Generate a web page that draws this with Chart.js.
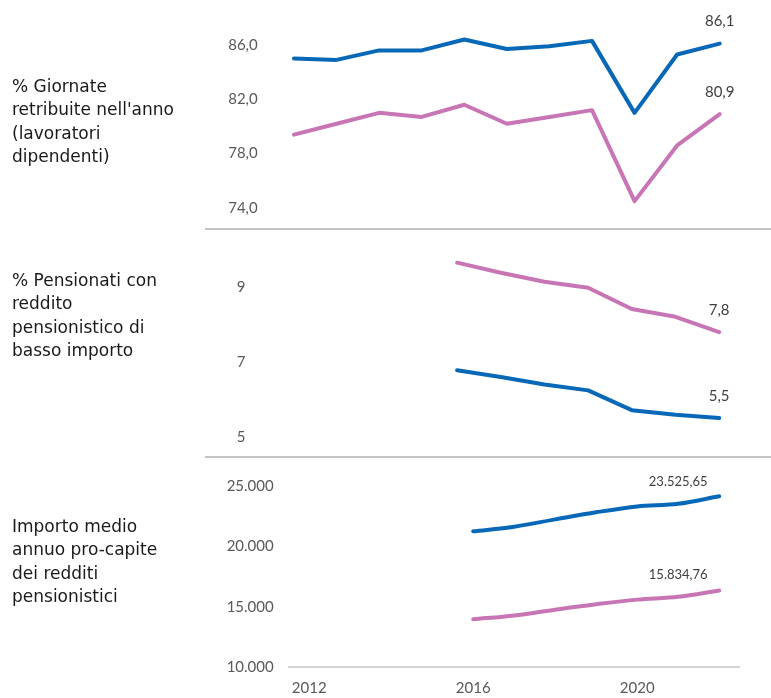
<!DOCTYPE html>
<html lang="it">
<head>
<meta charset="utf-8">
<title>Indicatori lavoro e pensioni</title>
<script src="https://cdn.jsdelivr.net/npm/chart.js@4.4.1/dist/chart.umd.min.js"></script>
<style>
    body { margin: 0; background: #fff; }
    #wrap { position: relative; width: 771px; height: 698px; overflow: hidden; background: #fff; }
    .panel { position: absolute; left: 0; }
    .titolo {
        position: absolute;
        left: 12px;
        font-family: "DejaVu Sans", sans-serif;
        font-size: 17px;
        line-height: 23.3px;
        color: #1a1a1a;
    }
    .sep { position: absolute; left: 205px; right: 0; height: 2px; background: #c4c4c4; }
</style>
</head>
<body>
<div id="wrap">
    <canvas id="giornateChart" class="panel" width="771" height="229" style="top:0"></canvas>
    <canvas id="bassoImportoChart" class="panel" width="771" height="228" style="top:229px"></canvas>
    <canvas id="importoMedioChart" class="panel" width="771" height="241" style="top:457px"></canvas>

    <div class="sep" style="top:228px"></div>
    <div class="sep" style="top:456px"></div>

    <div class="titolo" style="top:75px">% Giornate<br>retribuite nell'anno<br>(lavoratori<br>dipendenti)</div>
    <div class="titolo" style="top:269px">% Pensionati con<br>reddito<br>pensionistico di<br>basso importo</div>
    <div class="titolo" style="top:515px">Importo medio<br>annuo pro-capite<br>dei redditi<br>pensionistici</div>
</div>

<script>
// anni sull'asse orizzontale (solo alcuni mostrano l'etichetta)
const anni = ["2012", "2013", "2014", "2015", "2016", "2017", "2018", "2019", "2020", "2021", "2022"];
const anniEtichette = ["2012", "2016", "2020"];

// % giornate retribuite
const giornateBlu = [85.0, 84.9, 85.6, 85.6, 86.4, 85.7, 85.9, 86.3, 81.0, 85.3, 86.1];
const giornateRosa = [79.4, 80.2, 81.0, 80.7, 81.6, 80.2, 80.7, 81.2, 74.5, 78.6, 80.9];
const giornateTicks = [74, 78, 82, 86];

// % pensionati con reddito di basso importo (dal 2016)
const bassoBlu = [null, null, null, null, 6.78, 6.6, 6.4, 6.24, 5.71, 5.59, 5.5];
const bassoRosa = [null, null, null, null, 9.66, 9.39, 9.15, 8.99, 8.42, 8.21, 7.8];
const bassoTicks = [5, 7, 9];

// importo medio annuo pro-capite (dal 2016)
const importoBlu = [null, null, null, null, 21250, 21630, 22240, 22830, 23310, 23525.65, 24150];
const importoRosa = [null, null, null, null, 13970, 14290, 14770, 15220, 15600, 15834.76, 16360];
const importoTicks = [10000, 15000, 20000, 25000];

const BLU = "#0868b8";
const ROSA = "#c875b5";
const GRIGIO_TICK = "#595959";

function formatIt(v, dec) {
    const parts = Number(v).toFixed(dec).split(".");
    parts[0] = parts[0].replace(/\B(?=(\d{3})+(?!\d))/g, ".");
    return parts.join(",");
}

// niente margini extra dalle etichette: l'area del grafico la decide il padding
function senzaMargini(scale) {
    scale.paddingTop = 0;
    scale.paddingBottom = 0;
    scale.paddingLeft = 0;
    scale.paddingRight = 0;
}

// scrive il valore sopra alcuni punti delle serie
const valueLabels = {
    id: "valueLabels",
    afterDatasetsDraw(chart, args, opts) {
        const ctx = chart.ctx;
        ctx.save();
        ctx.font = opts.font;
        ctx.fillStyle = "#404040";
        ctx.textAlign = "center";
        ctx.textBaseline = "middle";
        opts.points.forEach(p => {
            const el = chart.getDatasetMeta(p.dataset).data[p.index];
            const v = chart.data.datasets[p.dataset].data[p.index];
            ctx.fillText(formatIt(v, opts.decimals), el.x, el.y - 22);
        });
        ctx.restore();
    }
};

function serie(data, colore, smooth) {
    return {
        data: data,
        borderColor: colore,
        borderWidth: 4,
        pointRadius: 0,
        fill: false,
        borderCapStyle: "round",
        borderJoinStyle: "round",
        cubicInterpolationMode: smooth ? "monotone" : "default",
        tension: 0
    };
}

function asseY(min, max, ticks, larghezza, fmt) {
    return {
        min: min,
        max: max,
        grid: { display: false, drawTicks: false },
        border: { display: false },
        afterBuildTicks: scale => { scale.ticks = ticks.map(v => ({ value: v })); },
        afterFit: scale => {
            scale.width = larghezza;
            senzaMargini(scale);
        },
        ticks: {
            padding: 15,
            color: GRIGIO_TICK,
            font: { family: "Lato", size: 15 },
            callback: fmt
        }
    };
}

function creaGrafico(id, datasets, yScale, xScale, padding, labels) {
    return new Chart(document.getElementById(id), {
        type: "line",
        data: { labels: anni, datasets: datasets },
        options: {
            responsive: false,
            animation: false,
            layout: { padding: padding },
            plugins: {
                legend: { display: false },
                tooltip: { enabled: false },
                valueLabels: labels
            },
            scales: { x: xScale, y: yScale }
        },
        plugins: [valueLabels]
    });
}

const asseXNascosto = { display: false, offset: true };

creaGrafico("giornateChart",
    [serie(giornateBlu, BLU), serie(giornateRosa, ROSA)],
    asseY(73, 88, giornateTicks, 272.7, v => formatIt(v, 1)),
    asseXNascosto,
    { left: 0, right: 30, top: 17.8, bottom: 7.5 },
    { font: "15px Lato", decimals: 1, points: [{ dataset: 0, index: 10 }, { dataset: 1, index: 10 }] }
);

creaGrafico("bassoImportoChart",
    [serie(bassoRosa, ROSA), serie(bassoBlu, BLU)],
    asseY(4.7, 10.2, bassoTicks, 260.5, v => formatIt(v, 0)),
    asseXNascosto,
    { left: 0, right: 30, top: 13.5, bottom: 9.1 },
    { font: "15px Lato", decimals: 1, points: [{ dataset: 0, index: 10 }, { dataset: 1, index: 10 }] }
);

creaGrafico("importoMedioChart",
    [serie(importoBlu, BLU, true), serie(importoRosa, ROSA, true)],
    asseY(10000, 26500, importoTicks, 288.7, v => formatIt(v, 0)),
    {
        offset: true,
        grid: { display: false, drawTicks: false },
        border: { color: "#d4d4d4", width: 2 },
        afterFit: scale => {
            scale.height = 30.7;
            senzaMargini(scale);
        },
        ticks: {
            autoSkip: false,
            maxRotation: 0,
            padding: 12,
            color: GRIGIO_TICK,
            font: { family: "Lato", size: 15 },
            callback: (val, i) => anniEtichette.includes(anni[i]) ? anni[i] : ""
        }
    },
    { left: 0, right: 31.3, top: 10.9, bottom: 0 },
    { font: "13px Lato", decimals: 2, points: [{ dataset: 0, index: 9 }, { dataset: 1, index: 9 }] }
);
</script>
</body>
</html>
